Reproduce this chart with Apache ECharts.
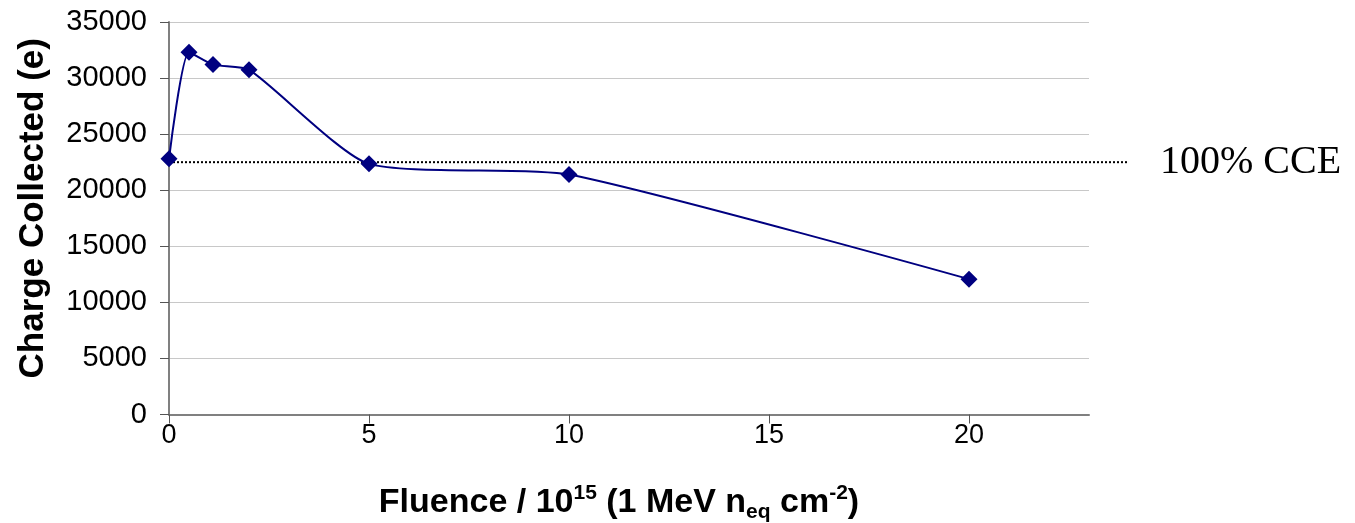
<!DOCTYPE html>
<html>
<head>
<meta charset="utf-8">
<script src="https://cdn.jsdelivr.net/npm/echarts@6/dist/echarts.min.js"></script>
<style>
  html, body { margin: 0; padding: 0; background: #fff; }
  #chart-cce { width: 1355px; height: 523px; }
</style>
</head>
<body>
<div id="chart-cce"></div>
<script>
// fluence (10^15 1 MeV neq cm-2) and collected charge (e)
const fluence = [0, 0.5, 1.1, 2, 5, 10, 20];
const charge = [22800, 32300, 31200, 30750, 22350, 21400, 12070];
// 100% CCE reference level, drawn a bit past the plot edge
const cceLevel = 22500;
const cceExtent = [0, 24];
const xTicks = [0, 5, 10, 15, 20];

const dom = document.getElementById('chart-cce');
const chart = echarts.init(dom);

const axisColor = '#808080';
const font = 'Liberation Sans, Arial, sans-serif';

var option = {
  backgroundColor: '#fff',
  animation: false,
  grid: [
    { left: 169, right: 266, top: 22, bottom: 108.5, outerBoundsMode: 'none', containLabel: false },
    // same plot, stretched to x = 24 for the reference line
    { left: 169, right: 227, top: 22, bottom: 108.5, outerBoundsMode: 'none', containLabel: false }
  ],
  xAxis: [
    {
      type: 'value',
      gridIndex: 0,
      min: 0,
      max: 23,
      interval: 5,
      splitLine: { show: false },
      axisLine: { lineStyle: { color: axisColor, width: 2 } },
      axisTick: { show: true, length: 9, customValues: xTicks, lineStyle: { color: '#555' } },
      axisLabel: {
        customValues: xTicks,
        margin: 8,
        color: '#000',
        fontSize: 27,
        fontFamily: font
      },
      name: 'Fluence / 10{sup|15} (1 MeV n{sub|eq} cm{sup|-2})',
      nameLocation: 'middle',
      nameGap: 68,
      nameTextStyle: {
        color: '#000',
        fontSize: 34,
        fontWeight: 'bold',
        fontFamily: font,
        lineHeight: 40,
        padding: [0, 20, 0, 0],
        rich: {
          sup: { fontSize: 21, fontWeight: 'bold', fontFamily: font, verticalAlign: 'top', lineHeight: 40 },
          sub: { fontSize: 21, fontWeight: 'bold', fontFamily: font, verticalAlign: 'bottom', lineHeight: 40 }
        }
      }
    },
    {
      type: 'value',
      gridIndex: 1,
      min: cceExtent[0],
      max: cceExtent[1],
      show: false
    }
  ],
  yAxis: [
    {
      type: 'value',
      gridIndex: 0,
      min: 0,
      max: 35000,
      interval: 5000,
      splitLine: { show: true, lineStyle: { color: '#c8c8c8', width: 1 } },
      axisLine: { show: true, lineStyle: { color: axisColor, width: 2 } },
      axisTick: { show: true, length: 9, lineStyle: { color: '#555' } },
      axisLabel: {
        margin: 22,
        color: '#000',
        fontSize: 29,
        fontFamily: font,
        formatter: v => String(v)
      },
      name: 'Charge Collected (e)',
      nameLocation: 'middle',
      nameRotate: 90,
      nameGap: 118,
      nameTextStyle: {
        color: '#000',
        fontSize: 35,
        fontWeight: 'bold',
        fontFamily: font,
        padding: [0, 0, 0, 20]
      }
    },
    {
      type: 'value',
      gridIndex: 1,
      min: 0,
      max: 35000,
      show: false
    }
  ],
  series: [
    {
      name: '100% CCE',
      type: 'line',
      xAxisIndex: 1,
      yAxisIndex: 1,
      data: cceExtent.map(f => [f, cceLevel]),
      symbol: 'none',
      silent: true,
      lineStyle: { color: '#000', width: 2, type: [2, 2] },
      endLabel: {
        show: true,
        formatter: '100% CCE',
        distance: 32,
        color: '#000',
        fontSize: 40,
        fontFamily: 'Liberation Serif, Times New Roman, serif'
      },
      z: 2
    },
    {
      name: 'Charge',
      type: 'line',
      xAxisIndex: 0,
      yAxisIndex: 0,
      data: fluence.map((f, i) => [f, charge[i]]),
      smooth: 0.2,
      symbol: 'diamond',
      symbolSize: 17,
      lineStyle: { color: '#000080', width: 2 },
      itemStyle: { color: '#000080' },
      z: 3
    }
  ]
};

option && chart.setOption(option);
window.addEventListener('resize', chart.resize);
</script>
</body>
</html>
